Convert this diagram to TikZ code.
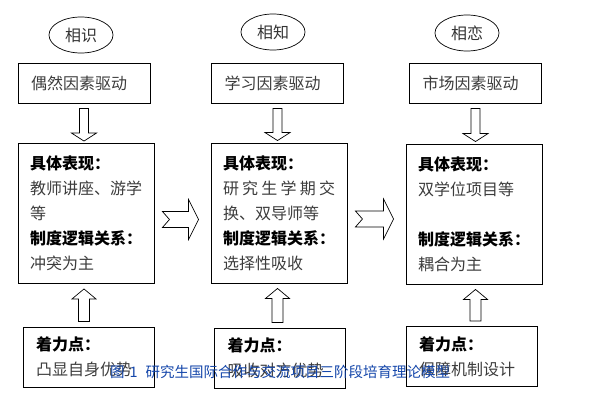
\documentclass[tikz,border=0pt]{standalone}
\usepackage{fontspec}
\usepackage{tikz}
\usetikzlibrary{calc, positioning, shapes.geometric}
\newfontfamily\cjk{Noto Sans CJK SC}
\definecolor{captblue}{RGB}{20,70,170}
\definecolor{txtgray}{RGB}{60,60,60}
\newcommand{\hd}[1]{{\color{black}\bfseries #1}}

\begin{document}
\begin{tikzpicture}[
  x=1pt, y=-1pt,
  every node/.style={font=\cjk\fontsize{16pt}{25pt}\selectfont},
  stage/.style={draw=black, ellipse, line width=0.7pt, minimum width=64pt,
                minimum height=36pt, inner sep=0pt, text=black!80},
  box/.style={draw=black, line width=0.9pt, align=left, text=txtgray},
  driver/.style={box, minimum height=40pt, text width=106pt, inner xsep=13pt},
  detail/.style={box, minimum height=140pt, text width=112pt, inner xsep=12pt},
  focus/.style={box, minimum height=60pt, text width=105pt, inner xsep=13pt},
  blk/.style={draw=black, line width=0.7pt, fill=white, line join=miter},
  capt/.style={font=\cjk\fontsize{14.5pt}{16pt}\selectfont, text=captblue}
]
\useasboundingbox (0,0) rectangle (596,400);
% stages
\node[stage] (st1) at (81,35) {相识};
\node[stage] (st2) at (273,32) {相知};
\node[stage] (st3) at (467,33) {相恋};
% driving factors
\node[driver] (top1) at (84,83) {偶然因素驱动};
\node[driver] (top2) at (277.5,83) {学习因素驱动};
\node[driver] (top3) at (475.5,83) {市场因素驱动};
% concrete forms
\node[detail] (mid1) at (86,213.5)
  {\hd{具体表现：}\\教师讲座、游学\\等\\\hd{制度逻辑关系：}\\冲突为主};
\node[detail] (mid2) at (279,213)
  {\hd{具体表现：}\\\makebox[112pt][l]{研\hfill 究\hfill 生\hfill 学\hfill 期\hfill 交}\\
   换、双导师等\\\hd{制度逻辑关系：}\\选择性吸收};
\node[detail] (mid3) at (474,214)
  {\hd{具体表现：}\\双学位项目等\\\mbox{}\\\hd{制度逻辑关系：}\\耦合为主};
% focus points
\node[focus] (bot1) at (88.5,357) {\hd{着力点：}\\凸显自身优势};
\node[focus] (bot2) at (280,358) {\hd{着力点：}\\吸收对方优势};
\node[focus] (bot3) at (471.5,356.5) {\hd{着力点：}\\保障机制设计};
% block arrows
\foreach \i in {1,2,3} {
  \draw[blk] let \p1=(top\i.south), \p2=(mid\i.north) in
    (\x1-4.5pt,\y1-5pt) -- (\x1-4.5pt,\y2+10pt) -- (\x1-12.5pt,\y2+10pt)
    -- (\x1,\y2+2pt) -- (\x1+12.5pt,\y2+10pt) -- (\x1+4.5pt,\y2+10pt)
    -- (\x1+4.5pt,\y1-5pt) -- cycle;
  \draw[blk] let \p1=(mid\i.south), \p2=(bot\i.north), \p3=(top\i.south) in
    (\x3-5.5pt,\y2+5pt) -- (\x3-5.5pt,\y1-15pt) -- (\x3-12pt,\y1-15pt)
    -- (\x3,\y1-5pt) -- (\x3+12pt,\y1-15pt) -- (\x3+5.5pt,\y1-15pt)
    -- (\x3+5.5pt,\y2+5pt) -- cycle;
}
\foreach \a/\b in {mid1/mid2, mid2/mid3} {
  \draw[blk] let \p1=($(\a.east)+(0,6)$), \p2=(\b.west) in
    (\x1+8pt,\y1+8pt) -- (\x2-22pt,\y1+8pt) -- (\x2-22pt,\y1+20pt)
    -- (\x2-12pt,\y1) -- (\x2-22pt,\y1-20pt) -- (\x2-22pt,\y1-8pt)
    -- (\x1+8pt,\y1-8pt) -- (\x1+15pt,\y1) -- cycle;
}
% caption
\node[capt, anchor=west, inner sep=0pt] (caption) at (110,372)
  {图\hspace{5pt}1\hspace{8pt}研究生国际合作与交流项目三阶段培育理论模型};
\end{tikzpicture}
\end{document}
